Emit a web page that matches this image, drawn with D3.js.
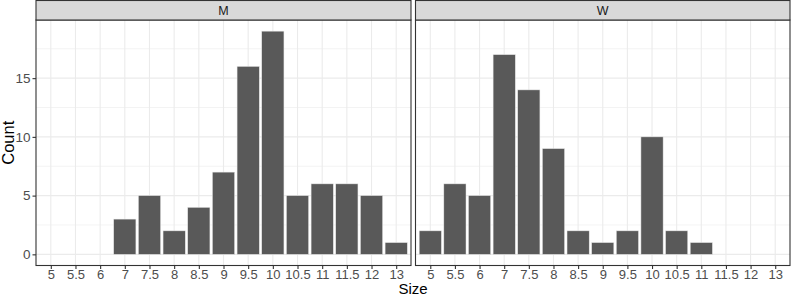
<!DOCTYPE html>
<html><head><meta charset="utf-8">
<script src="https://cdn.jsdelivr.net/npm/d3@7"></script>
<style>body{margin:0;background:#fff}svg{display:block}text{font-family:"Liberation Sans",Arial,sans-serif}</style>
</head><body><svg id="c" width="791" height="297"></svg>
<script>
const sizes = ["5","5.5","6","7","7.5","8","8.5","9","9.5","10","10.5","11","11.5","12","13"];
const panels = ["M","W"];
const mSizes = ["7","7.5","8","8.5","9","9.5","10","10.5","11","11.5","12","13"];
const mCounts = [3,5,2,4,7,16,19,5,6,6,5,1];
const wSizes = ["5","5.5","6","7","7.5","8","8.5","9","9.5","10","10.5","11"];
const wCounts = [2,6,5,17,14,9,2,1,2,10,2,1];
const yTicks = [0,5,10,15];
const yMinor = [2.5,7.5,12.5,17.5];

(function(){
const data = {M: mSizes.map((s,i)=>({s, c:mCounts[i]})), W: wSizes.map((s,i)=>({s, c:wCounts[i]}))};
const svg = d3.select("#c");
const pTop = 20, pBottom = 265.5, stripTop = 0.5;
const panelX = [[36, 411], [415.5, 790]];
const ymax = d3.max([...mCounts, ...wCounts]);
const y = d3.scaleLinear().domain([-0.05*ymax, ymax*1.05]).range([pBottom, pTop]);

panels.forEach((p, pi) => {
  const [x0, x1] = panelX[pi];
  const n = sizes.length;
  const unit = (x1 - x0) / (n - 1 + 1.2);
  const x = d3.scalePoint().domain(sizes).range([x0 + 0.6*unit, x1 - 0.6*unit]);
  const g = svg.append("g");
  g.append("rect").attr("x", x0).attr("y", pTop).attr("width", x1-x0).attr("height", pBottom-pTop).attr("fill", "#fff");
  g.selectAll(".ym").data(yMinor).join("line").attr("x1", x0).attr("x2", x1)
    .attr("y1", d=>y(d)).attr("y2", d=>y(d)).attr("stroke", "#ebebeb").attr("stroke-width", 0.6);
  g.selectAll(".yM").data(yTicks).join("line").attr("x1", x0).attr("x2", x1)
    .attr("y1", d=>y(d)).attr("y2", d=>y(d)).attr("stroke", "#ebebeb").attr("stroke-width", 1.1);
  g.selectAll(".xM").data(sizes).join("line").attr("y1", pTop).attr("y2", pBottom)
    .attr("x1", d=>x(d)).attr("x2", d=>x(d)).attr("stroke", "#ebebeb").attr("stroke-width", 1.1);
  const bw = 0.9*unit;
  g.selectAll(".bar").data(data[p]).join("rect")
    .attr("x", d=>x(d.s)-bw/2).attr("width", bw)
    .attr("y", d=>y(d.c)).attr("height", d=>y(0)-y(d.c))
    .attr("fill", "#595959").attr("stroke", "#e6e6e6").attr("stroke-width", 0.5);
  g.append("rect").attr("x", x0).attr("y", pTop).attr("width", x1-x0).attr("height", pBottom-pTop)
    .attr("fill", "none").attr("stroke", "#333333").attr("stroke-width", 1.1);
  g.append("rect").attr("x", x0).attr("y", stripTop).attr("width", x1-x0).attr("height", pTop-stripTop)
    .attr("fill", "#d9d9d9").attr("stroke", "#333333").attr("stroke-width", 1.1);
  g.append("text").attr("x", (x0+x1)/2).attr("y", 15).attr("text-anchor", "middle")
    .attr("font-size", 12.5).attr("fill", "#1a1a1a").text(p);
  const xa = g.append("g").attr("transform", `translate(0,${pBottom})`)
    .call(d3.axisBottom(x).tickSize(3.5).tickPadding(1));
  xa.select(".domain").remove();
  xa.selectAll("line").attr("stroke", "#333333").attr("stroke-width", 1.1);
  xa.selectAll("text").attr("font-size", 13).attr("fill", "#4d4d4d").attr("font-family", "Liberation Sans, Arial, sans-serif");
  if (pi === 0) {
    const ya = g.append("g").attr("transform", `translate(${x0},0)`)
      .call(d3.axisLeft(y).tickValues(yTicks).tickSize(3.5).tickPadding(2));
    ya.select(".domain").remove();
    ya.selectAll("line").attr("stroke", "#333333").attr("stroke-width", 1.1);
    ya.selectAll("text").attr("font-size", 13.5).attr("fill", "#4d4d4d").attr("font-family", "Liberation Sans, Arial, sans-serif");
  }
});
svg.append("text").attr("x", (36+790)/2).attr("y", 293.8).attr("text-anchor", "middle")
  .attr("font-size", 15).attr("fill", "#000").text("Size");
svg.append("text").attr("transform", `translate(13.5,${(pTop+pBottom)/2}) rotate(-90)`).attr("text-anchor", "middle")
  .attr("font-size", 16.5).attr("fill", "#000").text("Count");
})();
</script></body></html>
